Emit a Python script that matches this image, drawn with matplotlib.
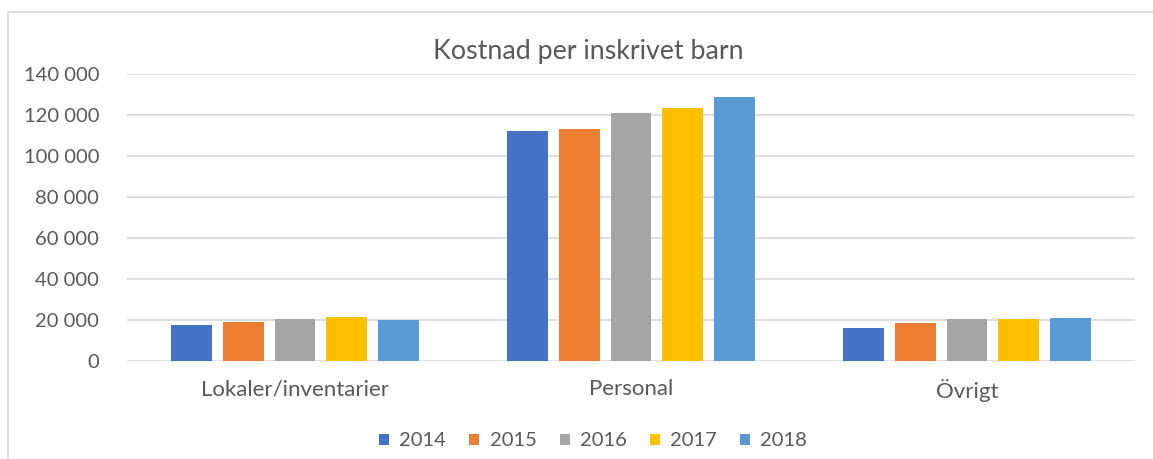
import matplotlib
matplotlib.use("Agg")
import matplotlib.pyplot as plt
from matplotlib.patches import Rectangle
from matplotlib.ticker import FuncFormatter
import numpy as np

plt.rcParams['font.family'] = ['Lato', 'DejaVu Sans']

categories = ["Lokaler/inventarier", "Personal", "Övrigt"]
years = ["2014", "2015", "2016", "2017", "2018"]
values = {
    "2014": [17800, 112200, 16000],
    "2015": [18900, 113200, 18400],
    "2016": [20700, 121000, 20300],
    "2017": [21500, 123300, 20300],
    "2018": [20000, 128800, 21000],
}
colors = ["#4472C4", "#ED7D31", "#A5A5A5", "#FFC000", "#5B9BD5"]

W, H = 1153, 459
fig = plt.figure(figsize=(W / 100, H / 100), dpi=100)
# chart border (left + top visible)
fig.patches.append(Rectangle((8 / W, -0.1), 1.2, 1 - 12 / H + 0.1, transform=fig.transFigure,
                             fill=False, edgecolor="#d9d9d9", linewidth=1.2))

ax = fig.add_axes([127 / W, 1 - 361 / H, (1135 - 127) / W, (361 - 74) / H])
x = np.arange(len(categories))
step = 0.154
bw = 0.121
for i, (yr, c) in enumerate(zip(years, colors)):
    ax.bar(x + (i - 2) * step, values[yr], width=bw, color=c, label=yr, zorder=3)

ax.set_xlim(-0.5, 2.5)
ax.set_ylim(0, 140000)
ax.set_yticks(np.arange(0, 140001, 20000))
ax.yaxis.set_major_formatter(FuncFormatter(lambda v, p: f"{int(v):,}".replace(",", " ")))
ax.grid(axis="y", color="#d9d9d9", linewidth=1.2, zorder=0)
for s in ax.spines.values():
    s.set_visible(False)
ax.tick_params(axis="both", length=0, colors="#595959")
ax.tick_params(axis="y", pad=20, labelsize=14.5)
ax.tick_params(axis="x", pad=13, labelsize=16)
ax.set_xticks(x)
ax.set_xticklabels(categories)

fig.text(588 / W, 1 - 52 / H, "Kostnad per inskrivet barn", ha="center", va="center",
         fontsize=19.3, color="#595959")

fig.legend(loc="center", bbox_to_anchor=(593 / W, 1 - 441 / H), ncol=5, frameon=False,
           fontsize=14.5, labelcolor="#595959", handlelength=0.5, handleheight=0.5,
           handletextpad=0.5, columnspacing=1.15)

fig.savefig("out.png", dpi=100)
